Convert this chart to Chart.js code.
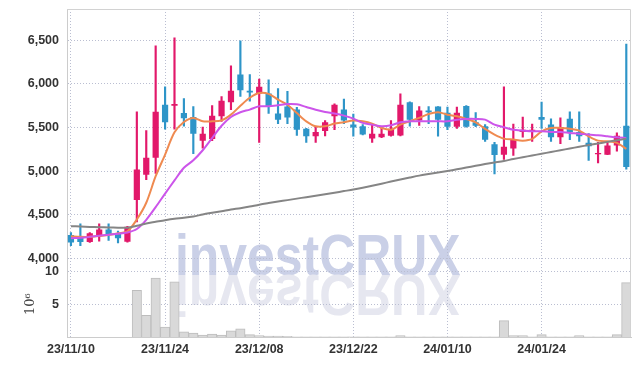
<!DOCTYPE html>
<html>
<head>
<meta charset="utf-8">
<script src="https://cdn.jsdelivr.net/npm/chart.js@4"></script>
<style>
html, body { margin: 0; padding: 0; background: #fff; }
</style>
</head>
<body>
<canvas id="myChart" width="639" height="366"></canvas>
<script>
const dates = ['23/11/10','23/11/13','23/11/14','23/11/15','23/11/16','23/11/17','23/11/20','23/11/21','23/11/22','23/11/23',
  '23/11/24','23/11/27','23/11/28','23/11/29','23/11/30','23/12/01','23/12/04','23/12/05','23/12/06','23/12/07',
  '23/12/08','23/12/11','23/12/12','23/12/13','23/12/14','23/12/15','23/12/18','23/12/19','23/12/20','23/12/21',
  '23/12/22','23/12/26','23/12/27','23/12/28','24/01/02','24/01/03','24/01/04','24/01/05','24/01/08','24/01/09',
  '24/01/10','24/01/11','24/01/12','24/01/15','24/01/16','24/01/17','24/01/18','24/01/19','24/01/22','24/01/23',
  '24/01/24','24/01/25','24/01/26','24/01/29','24/01/30','24/01/31','24/02/01','24/02/02','24/02/05','24/02/06']

const open = [4270,4250,4190,4270,4335,4295,4195,4670,4960,5155,5760,5750,5665,5620,5350,5370,5630,5790,6105,5920,
  5890,5890,5660,5740,5705,5485,5400,5460,5630,5705,5535,5515,5375,5390,5405,5410,5790,5580,5695,5740,
  5670,5510,5745,5560,5515,5310,5190,5260,5450,5450,5620,5535,5390,5600,5450,5325,5195,5190,5295,5520]
const high = [4300,4400,4300,4400,4400,4315,4370,5680,5465,6435,5965,6525,5830,5740,5505,5750,5855,6205,6490,6105,
  6055,6045,5945,5915,5730,5490,5515,5580,5770,5825,5655,5535,5530,5515,5580,5885,5795,5740,5740,5740,
  5735,5735,5750,5670,5535,5330,5965,5540,5620,5540,5790,5600,5610,5680,5680,5430,5330,5340,5440,6455]
const low = [4150,4150,4185,4200,4210,4180,4190,4420,4905,4975,5480,5480,5515,5200,5265,5350,5570,5705,5855,5800,
  5330,5660,5545,5545,5410,5330,5330,5405,5475,5545,5400,5415,5330,5385,5400,5405,5515,5525,5545,5400,
  5475,5490,5505,5510,5340,4970,5135,5180,5390,5340,5490,5340,5315,5360,5340,5125,5095,5190,5230,5025]
const close = [4185,4190,4290,4335,4275,4235,4365,5020,5155,5680,5560,5770,5605,5430,5430,5635,5805,5920,5925,5900,
  5965,5740,5590,5615,5475,5400,5450,5560,5760,5580,5500,5420,5430,5430,5485,5760,5590,5695,5675,5590,
  5510,5670,5510,5520,5360,5185,5280,5370,5475,5475,5590,5390,5505,5445,5400,5285,5210,5295,5405,5050]

const ma5 = [4258,4250,4250,4260,4270,4290,4312,4449,4640,4943,5190,5445,5564,5610,5571,5571,5582,5647,5749,5840,
  5895,5885,5818,5760,5665,5571,5514,5514,5545,5560,5580,5571,5545,5495,5475,5533,5571,5610,5655,5674,
  5647,5628,5598,5560,5484,5419,5373,5362,5350,5370,5457,5495,5495,5486,5465,5400,5350,5342,5324,5255]
const ma20 = [4235,4240,4250,4262,4275,4285,4300,4340,4445,4590,4745,4895,5040,5125,5240,5380,5520,5620,5675,5705,
  5742,5742,5754,5769,5765,5735,5704,5678,5660,5636,5602,5553,5533,5514,5525,5560,5571,5571,5571,5571,
  5571,5590,5598,5598,5590,5533,5503,5475,5465,5457,5457,5450,5448,5438,5430,5419,5411,5400,5388,5381]
const ma120 = [4372,4368,4364,4360,4357,4355,4354,4376,4403,4422,4441,4457,4468,4483,4506,4525,4543,4563,4578,4597,
  4618,4636,4653,4670,4687,4704,4721,4738,4755,4773,4791,4812,4835,4858,4882,4905,4928,4950,4968,4985,
  5003,5022,5042,5062,5082,5100,5118,5140,5160,5180,5200,5220,5240,5260,5280,5300,5318,5336,5355,5373]

// volume, millions of shares
const volume = [0,0,0,0,0,0,0,7.1,3.3,9.0,1.5,8.4,0.8,0.6,0.3,0.45,0.3,0.95,1.25,0.35,
  0.2,0.15,0.15,0.1,0.03,0.03,0.03,0.03,0.03,0.03,0.03,0.03,0.03,0.03,0.03,0.2,0.03,0.03,0.03,0.03,
  0.03,0.03,0.03,0.03,0.03,0.03,2.5,0.2,0.2,0.03,0.35,0.03,0.03,0.03,0.2,0.03,0.03,0.03,0.35,8.3]

const priceTicks = [4000,4500,5000,5500,6000,6500]
const volumeTicks = [5,10]
const dateTicks = [0,10,20,30,40,50]

const UP = '#e2186a'
const DOWN = '#2e95c8'
const candleColors = open.map((o, i) => close[i] >= o ? UP : DOWN)

const tickFont = { family: "'Liberation Sans', Arial, sans-serif", size: 12.5, weight: 'bold' }
const gridColor = '#babed1'

const watermark = {
    id: 'watermark',
    beforeDraw(chart) {
        const ctx = chart.ctx
        ctx.save()
        ctx.font = "bold 58px 'Liberation Sans', Arial, sans-serif"
        ctx.translate(175, 275)
        ctx.scale(0.86, 1)
        ctx.fillStyle = '#cad0e7'
        ctx.fillText('investCRUX', 0, 0)
        ctx.scale(1, -1)
        ctx.fillStyle = '#e6e7f0'
        ctx.fillText('investCRUX', 0, 0)
        ctx.restore()
    }
}

const frame = {
    id: 'frame',
    afterDraw(chart) {
        const { ctx, chartArea: a } = chart
        ctx.save()
        ctx.strokeStyle = '#d2d2d2'
        ctx.lineWidth = 1
        ctx.beginPath()
        ctx.moveTo(a.left, a.top + 0.5)
        ctx.lineTo(a.right - 0.5, a.top + 0.5)
        ctx.lineTo(a.right - 0.5, a.bottom)
        ctx.stroke()
        ctx.restore()
    }
}

// y axes: fixed width, no extra room for half tick labels at the edges
const fitY = s => {
    s.width = 63
    s.paddingTop = 0
    s.paddingBottom = 0
}

const line = (data, color) => ({
    type: 'line',
    data: data.map((v, i) => ({ x: i, y: v })),
    borderColor: color,
    borderWidth: 2,
    pointRadius: 0,
    tension: 0.3,
    yAxisID: 'y',
    order: 0
})

const data = {
    datasets: [
        line(ma120, '#858585'),
        line(ma20, '#cc55ea'),
        line(ma5, '#ef8a50'),
        {
            type: 'bar',
            data: open.map((o, i) => ({ x: i, y: [o, close[i]] })),
            backgroundColor: candleColors,
            barPercentage: 0.66,
            categoryPercentage: 1,
            grouped: false,
            yAxisID: 'y',
            order: 1
        },
        {
            type: 'bar',
            data: low.map((l, i) => ({ x: i, y: [l, high[i]] })),
            backgroundColor: candleColors,
            barThickness: 1.5,
            grouped: false,
            yAxisID: 'y',
            order: 2
        },
        {
            type: 'bar',
            data: volume.map((v, i) => ({ x: i, y: v })),
            backgroundColor: '#d9d9d9',
            borderColor: '#bdbdbd',
            borderWidth: 1,
            barPercentage: 1,
            categoryPercentage: 1,
            grouped: false,
            yAxisID: 'yv',
            order: 3
        }
    ]
}

const config = {
    type: 'bar',
    data,
    plugins: [watermark, frame],
    options: {
        responsive: false,
        animation: false,
        layout: { padding: { left: 4, right: 8, top: 9, bottom: 2 } },
        plugins: { legend: { display: false }, tooltip: { enabled: false } },
        scales: {
            x: {
                type: 'linear',
                offset: false,
                min: -0.42,
                max: 59.5,
                afterBuildTicks: s => { s.ticks = dateTicks.map(v => ({ value: v })) },
                afterFit: s => { s.height = 27 },
                ticks: { callback: v => dates[v], font: tickFont, color: '#333', padding: 5, maxRotation: 0, autoSkip: false },
                grid: { color: gridColor, drawTicks: false, offset: false },
                border: { color: '#cccccc', dash: [1, 2] }
            },
            yv: {
                position: 'left',
                stack: 'panels',
                stackWeight: 1,
                min: 0,
                max: 10,
                afterBuildTicks: s => { s.ticks = volumeTicks.map(v => ({ value: v })) },
                afterFit: fitY,
                ticks: { font: tickFont, color: '#333', padding: 8 },
                grid: { color: gridColor, drawTicks: false },
                border: { color: '#cccccc', dash: [1, 2] },
                title: { display: true, text: '10⁶', font: { family: 'DejaVu Serif', size: 13 }, color: '#444', padding: { top: 19, bottom: 0 } }
            },
            y: {
                position: 'left',
                stack: 'panels',
                stackWeight: 4,
                min: 3855,
                max: 6855,
                afterBuildTicks: s => { s.ticks = priceTicks.map(v => ({ value: v })) },
                afterFit: fitY,
                ticks: { font: tickFont, color: '#333', padding: 8 },
                grid: { color: gridColor, drawTicks: false },
                border: { color: '#cccccc', dash: [1, 2] }
            }
        }
    }
}

var myChart = new Chart(document.getElementById('myChart'), config)
</script>
</body>
</html>
